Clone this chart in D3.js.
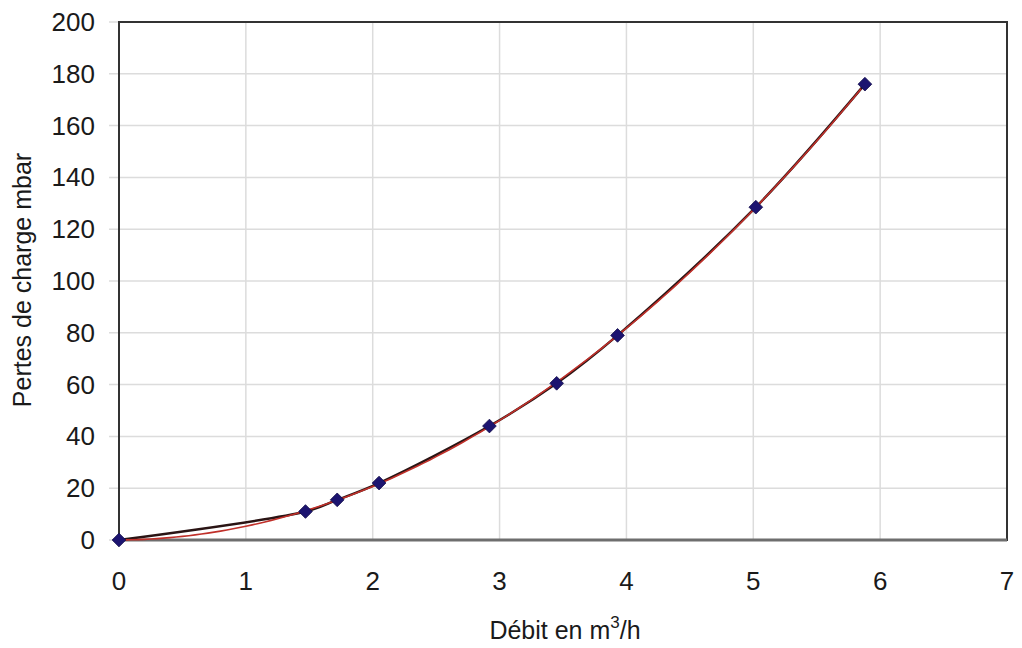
<!DOCTYPE html>
<html>
<head>
<meta charset="utf-8">
<script src="https://cdn.jsdelivr.net/npm/d3@7"></script>
<style>
  body { margin: 0; background: #fff; }
  text { font-family: "Liberation Sans", Arial, sans-serif; fill: #1a1a1a; }
</style>
</head>
<body>
<div id="chart"></div>
<script>
// measured points (flow in m3/h, pressure loss in mbar)
const debit = [0, 1.47, 1.72, 2.05, 2.92, 3.45, 3.93, 5.02, 5.88];
const pertes = [0, 11, 15.5, 22, 44, 60.5, 79, 128.5, 176];
const xTicks = [0, 1, 2, 3, 4, 5, 6, 7];
const yTicks = [0, 20, 40, 60, 80, 100, 120, 140, 160, 180, 200];

const width = 1022;
const height = 648;
const margin = { top: 22, right: 15, bottom: 108, left: 119 };

const svg = d3.select("#chart")
              .append("svg")
              .attr("width", width)
              .attr("height", height);

const x = d3.scaleLinear().domain([0, 7]).range([margin.left, width - margin.right]);
const y = d3.scaleLinear().domain([0, 200]).range([height - margin.bottom, margin.top]);

// grid
svg.append("g")
   .selectAll("line")
   .data(yTicks)
   .enter()
   .append("line")
   .attr("x1", margin.left - 10)
   .attr("x2", width - margin.right)
   .attr("y1", d => y(d))
   .attr("y2", d => y(d))
   .style("stroke", "#dcdcdc")
   .style("stroke-width", 1.5);

svg.append("g")
   .selectAll("line")
   .data(xTicks)
   .enter()
   .append("line")
   .attr("x1", d => x(d))
   .attr("x2", d => x(d))
   .attr("y1", margin.top)
   .attr("y2", height - margin.bottom)
   .style("stroke", "#dcdcdc")
   .style("stroke-width", 1.5);

// plot frame
svg.append("rect")
   .attr("x", margin.left)
   .attr("y", margin.top)
   .attr("width", width - margin.left - margin.right)
   .attr("height", height - margin.top - margin.bottom)
   .style("fill", "none")
   .style("stroke", "#333")
   .style("stroke-width", 2);

// bottom axis line
svg.append("line")
   .attr("x1", margin.left)
   .attr("x2", width - margin.right)
   .attr("y1", y(0))
   .attr("y2", y(0))
   .style("stroke", "#6e6e6e")
   .style("stroke-width", 3);

// tick labels
svg.append("g")
   .selectAll("text")
   .data(yTicks)
   .enter()
   .append("text")
   .attr("x", 95)
   .attr("y", d => y(d) + 9)
   .attr("text-anchor", "end")
   .style("font-size", "26px")
   .text(d => d);

svg.append("g")
   .selectAll("text")
   .data(xTicks)
   .enter()
   .append("text")
   .attr("x", d => x(d))
   .attr("y", 590)
   .attr("text-anchor", "middle")
   .style("font-size", "26px")
   .text(d => d);

// axis titles
const xTitle = svg.append("text")
                  .attr("x", 565)
                  .attr("y", 639)
                  .attr("text-anchor", "middle")
                  .style("font-size", "25px");
xTitle.append("tspan").text("Débit en m");
xTitle.append("tspan").attr("dy", -11).style("font-size", "17px").text("3");
xTitle.append("tspan").attr("dy", 11).text("/h");

svg.append("text")
   .attr("transform", "translate(31, 280) rotate(-90)")
   .attr("text-anchor", "middle")
   .style("font-size", "25px")
   .text("Pertes de charge mbar");

const points = debit.map((d, i) => [d, pertes[i]]);

// polynomial (order 2) trendline from least squares on the points
function quadFit(pts) {
    const S = [[0, 0, 0], [0, 0, 0], [0, 0, 0]];
    const T = [0, 0, 0];
    pts.forEach(([a, b]) => {
        const p = [1, a, a * a];
        for (let i = 0; i < 3; i++) {
            T[i] += p[i] * b;
            for (let j = 0; j < 3; j++) S[i][j] += p[i] * p[j];
        }
    });
    // gaussian elimination
    for (let i = 0; i < 3; i++) {
        for (let k = i + 1; k < 3; k++) {
            const f = S[k][i] / S[i][i];
            for (let j = i; j < 3; j++) S[k][j] -= f * S[i][j];
            T[k] -= f * T[i];
        }
    }
    const c = [0, 0, 0];
    for (let i = 2; i >= 0; i--) {
        let s = T[i];
        for (let j = i + 1; j < 3; j++) s -= S[i][j] * c[j];
        c[i] = s / S[i][i];
    }
    return c;
}
const coef = quadFit(points);
const trendX = d3.range(0, 5.88 + 0.001, 0.05);
const trend = trendX.map(v => [v, coef[0] + coef[1] * v + coef[2] * v * v]);

// smoothed data line (black) + trendline (red)
const smooth = d3.line().x(d => x(d[0])).y(d => y(d[1])).curve(d3.curveCatmullRom.alpha(0.5));
const line = d3.line().x(d => x(d[0])).y(d => y(d[1]));

svg.append("path")
   .datum(points)
   .attr("d", smooth)
   .style("fill", "none")
   .style("stroke", "#2a1414")
   .style("stroke-width", 2.5);

svg.append("path")
   .datum(trend)
   .attr("d", line)
   .style("fill", "none")
   .style("stroke", "#c0302a")
   .style("stroke-width", 1.6);

// diamond markers
svg.append("g")
   .selectAll("path")
   .data(points)
   .enter()
   .append("path")
   .attr("transform", d => `translate(${x(d[0])}, ${y(d[1])})`)
   .attr("d", d3.symbol().type(d3.symbolDiamond2).size(120))
   .style("fill", "#1c1470")
   .style("stroke", "#120c4a")
   .style("stroke-width", 0.8);
</script>
</body>
</html>
